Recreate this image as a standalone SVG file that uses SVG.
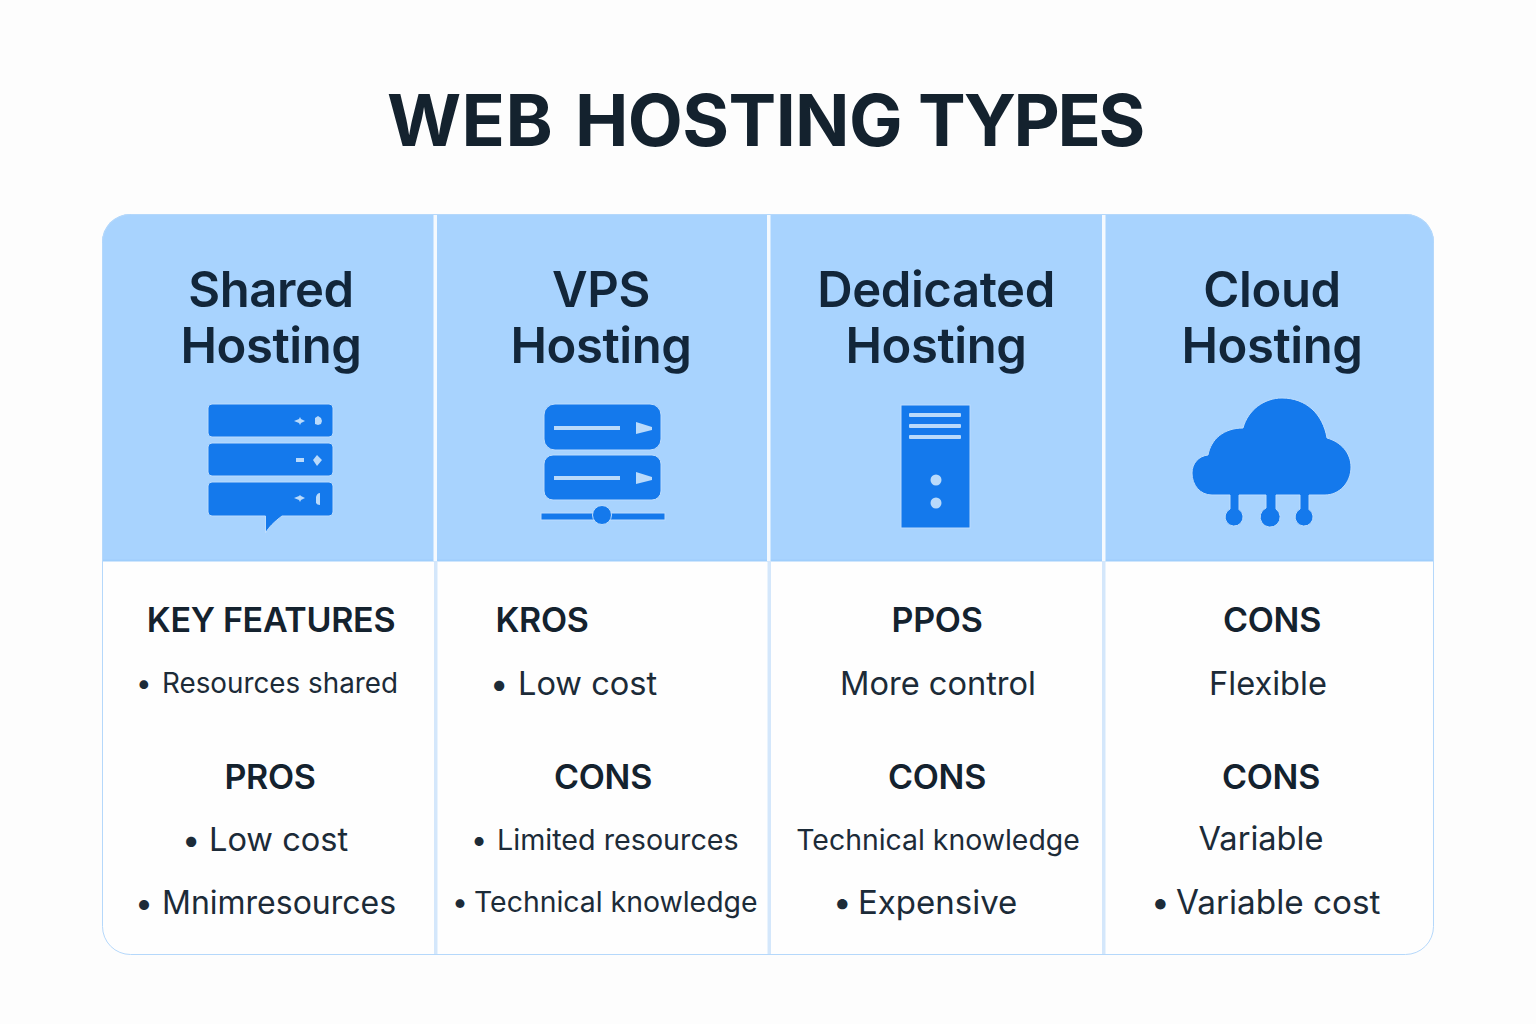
<svg xmlns="http://www.w3.org/2000/svg" width="1536" height="1024" viewBox="0 0 1536 1024">
<style>
text{font-family:Inter,"Liberation Sans",sans-serif;fill:#14222e}
.t{font-size:71.500px;font-weight:700;letter-spacing:-.6px}
.h{font-size:49px;font-weight:590;text-anchor:middle;fill:#12263a;letter-spacing:-.4px}
.k{font-size:34px;font-weight:570;text-anchor:middle;letter-spacing:-.3px}
.b{font-size:32.600px;font-weight:400;fill:#1c2b38}
.s{font-size:28.500px;font-weight:400;fill:#1c2b38}
.i{fill:#1479ec;stroke:#bcdcfd;stroke-width:1}
.g{fill:#b9dafb}
</style>
<defs><clipPath id="c"><rect x="102" y="214" width="1332" height="741" rx="28"/></clipPath></defs>
<rect width="1536" height="1024" fill="#fdfdfd"/>
<text id="title" class="t" y="146"><tspan x="387" style="letter-spacing:.4px">WEB</tspan> <tspan x="575">HOSTING</tspan> <tspan x="918" style="letter-spacing:-2.500px">TYPES</tspan></text>
<g id="table">
<rect x="102" y="214" width="1332" height="741" rx="28" fill="#fefefe"/>
<g clip-path="url(#c)">
<rect x="102" y="214" width="1332" height="347" fill="#a8d3fe"/>
<rect x="102" y="559.500" width="1332" height="2" fill="#9fcefb"/>
<rect x="433.500" y="214" width="3.500" height="347" fill="#f4f9fe"/>
<rect x="767" y="214" width="3.500" height="347" fill="#f4f9fe"/>
<rect x="1102" y="214" width="3.500" height="347" fill="#f4f9fe"/>
<rect x="434" y="561" width="3.500" height="394" fill="#d4e7fb"/>
<rect x="767.500" y="561" width="3.500" height="394" fill="#d4e7fb"/>
<rect x="1102" y="561" width="3.500" height="394" fill="#d4e7fb"/>
</g>
<rect x="102.500" y="214.500" width="1331" height="740" rx="28" fill="none" stroke="#b5d8fb" stroke-width="1"/>
</g>
<g id="shared">
<text class="h" x="271" y="307">Shared</text>
<text class="h" x="271" y="363">Hosting</text>
<rect class="i" x="208" y="404" width="125" height="33" rx="4"/>
<rect class="i" x="208" y="443" width="125" height="33" rx="4"/>
<path class="i" d="M212 482H329a4 4 0 0 1 4 4V512a4 4 0 0 1-4 4H282C274 522 269 527 265.500 533V516H212a4 4 0 0 1-4-4V486a4 4 0 0 1 4-4Z"/>
<path class="g" d="M294 421L299 419 300 417 301 419 305 421 301 423 300 425 299 423ZM315 418L318 416 321 418 322 421 321 424 318 425 315 424ZM296 458H304V462H296ZM313 460L317 455 322 460 317 466ZM294 498L299 496 300 495 301 496 305 498 301 500 300 502 299 500ZM316 497Q317 493 320 493V505Q317 505 316 503Z"/>
<text class="k" x="271" y="632">KEY FEATURES</text>
<text class="s" y="693" style="font-size:27.800px"><tspan x="136">•</tspan><tspan x="162">Resources shared</tspan></text>
<text class="k" x="270" y="789">PROS</text>
<text class="b" y="851"><tspan x="182">•</tspan><tspan x="209">Low cost</tspan></text>
<text class="b" y="914" style="font-size:32px"><tspan x="135">•</tspan><tspan x="162">Mnimresources</tspan></text>
</g>
<g id="vps">
<text class="h" x="601" y="307">VPS</text>
<text class="h" x="601" y="363">Hosting</text>
<rect class="i" x="544" y="404" width="117" height="46" rx="11"/>
<rect class="i" x="544" y="455" width="117" height="45" rx="9"/>
<rect class="i" x="541" y="513" width="124" height="7"/>
<circle class="i" cx="602" cy="515" r="9.500"/>
<path class="g" d="M554 426H620V430H554ZM636 422L652 427V430L636 434ZM554 476H620V480H554ZM636 472L652 477V480L636 484Z"/>
<text class="k" x="542" y="632">KROS</text>
<text class="b" y="695"><tspan x="490">•</tspan><tspan x="518">Low cost</tspan></text>
<text class="k" x="603" y="789">CONS</text>
<text class="s" y="850" style="font-size:28.700px"><tspan x="471">•</tspan><tspan x="497">Limited resources</tspan></text>
<text class="s" y="912" style="font-size:28.400px"><tspan x="452">•</tspan><tspan x="474">Technical knowledge</tspan></text>
</g>
<g id="dedicated">
<text class="h" x="936" y="307">Dedicated</text>
<text class="h" x="936" y="363">Hosting</text>
<rect class="i" x="901" y="405" width="69" height="123"/>
<g class="g"><rect x="909" y="413" width="52" height="4" rx="1"/><rect x="909" y="424" width="52" height="4" rx="1"/><rect x="909" y="435" width="52" height="4" rx="1"/><circle cx="936" cy="480" r="5.500"/><circle cx="936" cy="503" r="5.500"/></g>
<text class="k" x="937" y="632">PPOS</text>
<text class="b" x="938" y="695" text-anchor="middle">More control</text>
<text class="k" x="937" y="789">CONS</text>
<text class="s" x="938" y="850" text-anchor="middle" style="font-size:28.400px">Technical knowledge</text>
<text class="b" y="914" style="font-size:33px"><tspan x="833">•</tspan><tspan x="858">Expensive</tspan></text>
</g>
<g id="cloud">
<text class="h" x="1272" y="307">Cloud</text>
<text class="h" x="1272" y="363">Hosting</text>
<path class="i" d="M1212 495C1200 495 1192 485 1192 473C1192 463 1199 456 1208 455C1211 439 1224 428 1243 428C1248 410 1264 398 1282 398C1306 398 1323 414 1327 438C1341 442 1351 453 1351 467C1351 483 1339 495 1325 495H1309V509.500A9 9 0 1 1 1300 509V495H1276V509A10 10 0 1 1 1266 508V495H1239V509.500A9 9 0 1 1 1230 509V495Z"/>
<text class="k" x="1272" y="632">CONS</text>
<text class="b" x="1268" y="695" text-anchor="middle">Flexible</text>
<text class="k" x="1271" y="789">CONS</text>
<text class="b" x="1261" y="850" text-anchor="middle">Variable</text>
<text class="b" y="914" style="font-size:33.300px"><tspan x="1151">•</tspan><tspan x="1176">Variable cost</tspan></text>
</g>
</svg>
